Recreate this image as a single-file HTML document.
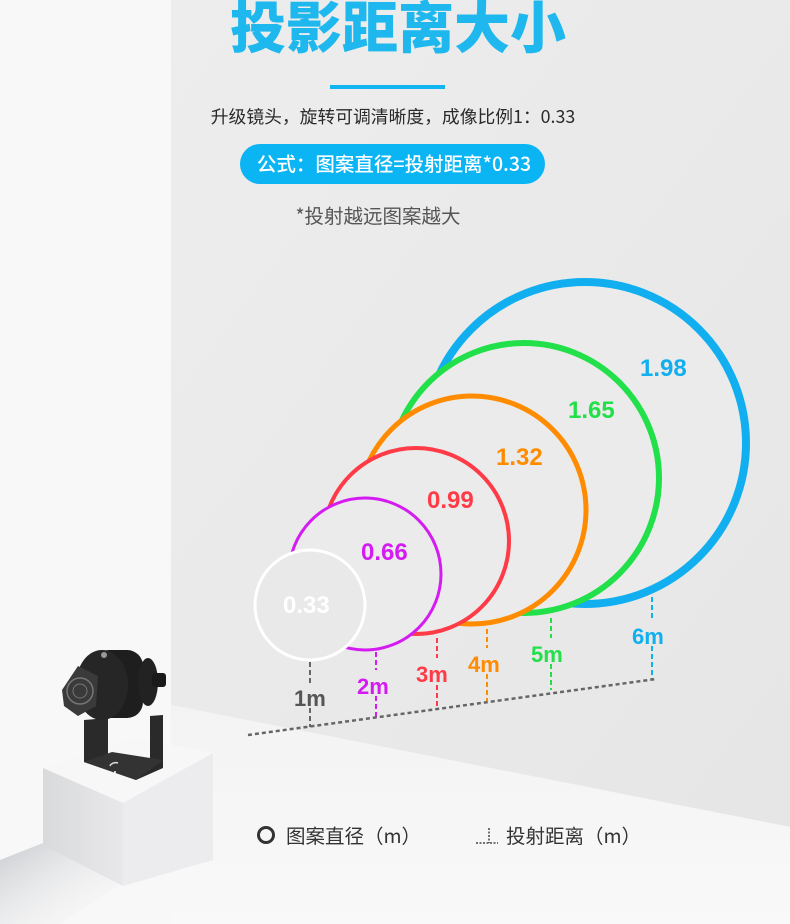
<!DOCTYPE html>
<html><head><meta charset="utf-8"><style>
html,body{margin:0;padding:0;}
body{width:790px;height:924px;overflow:hidden;background:#f8f8f8;font-family:"Liberation Sans","Noto Sans CJK SC",sans-serif;}
svg{display:block}
</style></head><body>
<svg width="790" height="924" viewBox="0 0 790 924" xmlns="http://www.w3.org/2000/svg" font-family="Liberation Sans, Noto Sans CJK SC, sans-serif">
<defs>
<linearGradient id="wall" x1="0" y1="0" x2="1" y2="1"><stop offset="0" stop-color="#ededed"/><stop offset="1" stop-color="#e6e6e6"/></linearGradient>
<linearGradient id="floor" x1="0" y1="0" x2="0" y2="1"><stop offset="0" stop-color="#f3f3f3"/><stop offset="1" stop-color="#f9f9f9"/></linearGradient>
<linearGradient id="front" x1="0" y1="0" x2="1" y2="0"><stop offset="0" stop-color="#d9dadc"/><stop offset="1" stop-color="#e8e8ea"/></linearGradient>
<linearGradient id="shadow" x1="0" y1="0" x2="1" y2="1"><stop offset="0" stop-color="#c9cbcf"/><stop offset="1" stop-color="#f8f8f8" stop-opacity="0"/></linearGradient>
</defs>
<rect width="790" height="924" fill="#f8f8f8"/>
<polygon points="171,0 790,0 790,827 171,705" fill="url(#wall)"/>
<polygon points="171,705 790,827 790,924 171,924" fill="url(#floor)"/>
<!-- title -->
<text x="398" y="48" text-anchor="middle" font-size="56" font-weight="900" fill="#1eb8ee" font-family="Noto Sans CJK SC, sans-serif">投影距离大小</text>
<rect x="330" y="85" width="115" height="4" fill="#12b4f2"/>
<text x="393" y="123" text-anchor="middle" font-size="17.8" fill="#2a2a2a" font-family="Noto Sans CJK SC, sans-serif">升级镜头，旋转可调清晰度，成像比例1：0.33</text>
<rect x="240" y="144" width="305" height="40" rx="20" fill="#0bb4f3"/>
<text x="394" y="171" text-anchor="middle" font-size="19.5" font-weight="500" fill="#fff" font-family="Noto Sans CJK SC, sans-serif">公式：图案直径=投射距离*0.33</text>
<text x="378" y="223" text-anchor="middle" font-size="19.5" fill="#555" font-family="Noto Sans CJK SC, sans-serif">*投射越远图案越大</text>
<!-- circles -->
<circle cx="585" cy="443" r="161" fill="#ebebeb" stroke="#11aff0" stroke-width="8"/>
<circle cx="524" cy="478" r="135" fill="#ebebeb" stroke="#22e04a" stroke-width="6"/>
<circle cx="472" cy="510" r="114" fill="#ebebeb" stroke="#ff8c00" stroke-width="5"/>
<circle cx="416" cy="541" r="93" fill="#ebebeb" stroke="#ff3b47" stroke-width="4"/>
<circle cx="365" cy="574" r="76" fill="#ebebeb" stroke="#d41bf2" stroke-width="3"/>
<circle cx="310" cy="605" r="55" fill="#e9e9e9" stroke="#ffffff" stroke-width="3"/>
<g font-size="24" font-weight="bold">
<text x="640" y="376" fill="#11aff0">1.98</text>
<text x="568" y="418" fill="#22e04a">1.65</text>
<text x="496" y="465" fill="#ff8c00">1.32</text>
<text x="427" y="508" fill="#ff3b47">0.99</text>
<text x="361" y="560" fill="#d41bf2">0.66</text>
<text x="283" y="613" fill="#ffffff">0.33</text>
</g>
<!-- dashed lines -->
<g stroke-width="2" stroke-dasharray="5,3" fill="none">
<line x1="310" y1="662" x2="310" y2="683" stroke="#666"/><line x1="310" y1="708" x2="310" y2="727" stroke="#666"/>
<line x1="376" y1="652" x2="376" y2="670" stroke="#d41bf2"/><line x1="376" y1="696" x2="376" y2="718" stroke="#d41bf2"/>
<line x1="437" y1="638" x2="437" y2="658" stroke="#ff3b47"/><line x1="437" y1="685" x2="437" y2="709" stroke="#ff3b47"/>
<line x1="487" y1="629" x2="487" y2="648" stroke="#ff8c00"/><line x1="487" y1="674" x2="487" y2="701" stroke="#ff8c00"/>
<line x1="551" y1="618" x2="551" y2="638" stroke="#22e04a"/><line x1="551" y1="664" x2="551" y2="690" stroke="#22e04a"/>
<line x1="652" y1="597" x2="652" y2="620" stroke="#11aff0"/><line x1="652" y1="646" x2="652" y2="680" stroke="#11aff0"/>
</g>
<line x1="248" y1="735" x2="656" y2="679" stroke="#666" stroke-width="2.5" stroke-dasharray="4,3"/>
<g font-size="22" font-weight="bold">
<text x="294" y="706" fill="#555">1m</text>
<text x="357" y="694" fill="#d41bf2">2m</text>
<text x="416" y="682" fill="#ff3b47">3m</text>
<text x="468" y="672" fill="#ff8c00">4m</text>
<text x="531" y="662" fill="#22e04a">5m</text>
<text x="632" y="644" fill="#11aff0">6m</text>
</g>
<!-- pedestal -->
<polygon points="0,860 43,843 123,883 60,924 0,924" fill="url(#shadow)"/>
<polygon points="43,768 133,738 213,753 123,803" fill="#f7f7f7"/>
<polygon points="43,768 123,803 123,886 43,845" fill="url(#front)"/>
<polygon points="123,803 213,753 213,860 123,886" fill="#ececee"/>
<!-- projector -->
<polygon points="84,720 108,718 108,758 150,770 150,716 163,715 163,768 136,780 84,762" fill="#2a2a2a"/>
<polygon points="84,762 112,752 163,760 136,780" fill="#333"/>
<circle cx="115" cy="772" r="1" fill="#fff"/>
<path d="M110 766 a6 5 0 0 1 8 -3" stroke="#ddd" stroke-width="1.5" fill="none"/>
<rect x="93" y="650" width="50" height="68" rx="16" fill="#1e1e1e"/>
<ellipse cx="102" cy="685" rx="26" ry="35" fill="#262626"/>
<ellipse cx="148" cy="682" rx="10" ry="24" fill="#222"/>
<rect x="152" y="673" width="14" height="14" rx="3" fill="#1a1a1a"/>
<polygon points="62,690 78,666 98,676 96,706 78,716 64,706" fill="#3a3a3a"/>
<circle cx="80" cy="691" r="13" fill="none" stroke="#777" stroke-width="1.5"/>
<circle cx="80" cy="691" r="7" fill="none" stroke="#777" stroke-width="1"/>
<circle cx="104" cy="655" r="3" fill="#999"/>
<!-- legend -->
<circle cx="266" cy="835" r="7.5" fill="none" stroke="#333" stroke-width="3"/>
<text x="286" y="843" font-size="19.5" fill="#333" font-family="Noto Sans CJK SC, sans-serif">图案直径（m）</text>
<line x1="476" y1="843" x2="498" y2="843" stroke="#444" stroke-width="1.5" stroke-dasharray="2,1.5"/>
<line x1="489" y1="828" x2="489" y2="843" stroke="#444" stroke-width="1.5" stroke-dasharray="2,1.5"/>
<text x="506" y="843" font-size="19.5" fill="#333" font-family="Noto Sans CJK SC, sans-serif">投射距离（m）</text>
</svg>
</body></html>
